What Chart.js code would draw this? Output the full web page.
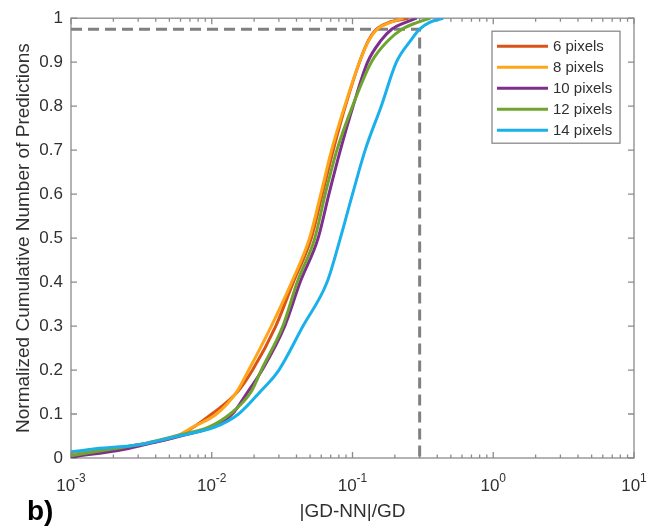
<!DOCTYPE html>
<html>
<head>
<meta charset="utf-8">
<script src="https://cdn.jsdelivr.net/npm/chart.js@4.4.1/dist/chart.umd.min.js"></script>
<style>
  html, body { margin: 0; padding: 0; background: #fff; }
  #wrap { width: 657px; height: 528px; }
</style>
</head>
<body>
<div id="wrap"><canvas id="cdfChart" width="657" height="528"></canvas></div>
<script>
// cumulative fraction levels shared by every curve
const cdfLevels = [0.02, 0.03, 0.05, 0.07, 0.1, 0.15, 0.2, 0.3, 0.4, 0.5, 0.6, 0.7, 0.8, 0.9, 0.95, 0.975, 0.99, 1.0];

// |GD-NN|/GD where each curve reaches the level above
const err6px  = [0.0019, 0.0030, 0.0057, 0.0074, 0.0100, 0.0152, 0.0195, 0.0285, 0.0380, 0.051, 0.061, 0.073, 0.089, 0.112, 0.130, 0.148, 0.18, 0.25];
const err8px  = [0.0020, 0.0031, 0.0057, 0.0073, 0.0108, 0.0150, 0.0183, 0.0265, 0.0370, 0.0495, 0.0595, 0.071, 0.088, 0.112, 0.131, 0.150, 0.185, 0.23];
const err10px = [0.0024, 0.0033, 0.0060, 0.0100, 0.0140, 0.0180, 0.0228, 0.0330, 0.0425, 0.057, 0.068, 0.082, 0.101, 0.128, 0.160, 0.190, 0.236, 0.286];
const err12px = [0.0019, 0.0030, 0.0055, 0.0095, 0.0135, 0.0190, 0.0225, 0.0320, 0.0405, 0.054, 0.064, 0.0775, 0.100, 0.136, 0.180, 0.225, 0.286, 0.356];
const err14px = [0.0014, 0.0030, 0.0058, 0.0105, 0.0155, 0.0220, 0.0300, 0.0445, 0.066, 0.082, 0.100, 0.123, 0.160, 0.205, 0.260, 0.300, 0.350, 0.44];

// fraction already reached at the left edge (x = 1e-3)
const startFrac = [0.008, 0.006, 0.002, 0.005, 0.014];

const seriesLabels = ['6 pixels', '8 pixels', '10 pixels', '12 pixels', '14 pixels'];
const seriesColors = ['#D95319', '#FFA51A', '#7E2F8E', '#6FA52E', '#1AB0EC'];
const seriesErrors = [err6px, err8px, err10px, err12px, err14px];

// axes
const xDecades = [-3, -2, -1, 0, 1];
const yTicks = [0, 0.1, 0.2, 0.3, 0.4, 0.5, 0.6, 0.7, 0.8, 0.9, 1];

// 97.5 % guide
const guideX = [0.001, 0.3, 0.3];
const guideY = [0.975, 0.975, 0];

const isDecade = v => Math.abs(Math.log10(v) - Math.round(Math.log10(v))) < 1e-9;

const AXIS_GREY = '#8a8a8a';
const TEXT = '#303030';
const FONT = "'Liberation Sans', Arial, sans-serif";

/* =============================
   DATASETS
============================= */
const datasets = seriesLabels.map((label, i) => ({
    label,
    data: [{ x: 0.001, y: startFrac[i] }].concat(
        cdfLevels.map((y, k) => ({ x: seriesErrors[i][k], y }))
    ),
    borderColor: seriesColors[i],
    backgroundColor: seriesColors[i],
    borderWidth: 3,
    pointRadius: 0,
    cubicInterpolationMode: 'monotone',
    order: 5 - i
}));

datasets.push({
    label: 'guide',
    isGuide: true,
    data: guideX.map((x, k) => ({ x, y: guideY[k] })),
    borderColor: '#808080',
    borderWidth: 3,
    borderDash: [11, 6],
    pointRadius: 0,
    tension: 0,
    order: 10
});

/* =============================
   PLUGINS
============================= */
// MATLAB style box with inward ticks on all four sides
const axesBox = {
    id: 'axesBox',
    beforeDatasetsDraw(chart) {
        const { ctx, chartArea: a, scales: { x, y } } = chart;
        ctx.save();
        ctx.strokeStyle = AXIS_GREY;
        ctx.lineWidth = 1.3;
        ctx.strokeRect(a.left, a.top, a.right - a.left, a.bottom - a.top);
        ctx.beginPath();
        x.ticks.forEach(t => {
            const px = x.getPixelForValue(t.value);
            const len = isDecade(t.value) ? 6 : 3.5;
            ctx.moveTo(px, a.bottom); ctx.lineTo(px, a.bottom - len);
            ctx.moveTo(px, a.top);    ctx.lineTo(px, a.top + len);
        });
        y.ticks.forEach(t => {
            const py = y.getPixelForValue(t.value);
            ctx.moveTo(a.left, py);  ctx.lineTo(a.left + 6, py);
            ctx.moveTo(a.right, py); ctx.lineTo(a.right - 6, py);
        });
        ctx.stroke();
        ctx.restore();
    }
};

// 10^n labels with a raised exponent
const decadeLabels = {
    id: 'decadeLabels',
    afterDraw(chart) {
        const { ctx, chartArea: a, scales: { x } } = chart;
        ctx.save();
        ctx.fillStyle = TEXT;
        ctx.textBaseline = 'alphabetic';
        ctx.textAlign = 'left';
        x.ticks.filter(t => isDecade(t.value)).forEach(t => {
            const px = x.getPixelForValue(t.value);
            const exp = String(Math.round(Math.log10(t.value)));
            ctx.font = `17px ${FONT}`;
            const wBase = ctx.measureText('10').width;
            ctx.font = `12px ${FONT}`;
            const wExp = ctx.measureText(exp).width;
            const x0 = px - (wBase + wExp) / 2;
            ctx.font = `17px ${FONT}`;
            ctx.fillText('10', x0, a.bottom + 33);
            ctx.font = `12px ${FONT}`;
            ctx.fillText(exp, x0 + wBase, a.bottom + 24);
        });
        ctx.restore();
    }
};

const insideLegend = {
    id: 'insideLegend',
    afterDraw(chart) {
        const { ctx, chartArea: a } = chart;
        const items = chart.data.datasets.filter(d => !d.isGuide);
        const w = 128, rowH = 21;
        const left = a.right - 14 - w, top = a.top + 13;
        const h = 15 + (items.length - 1) * rowH + 13;
        ctx.save();
        ctx.fillStyle = '#fff';
        ctx.fillRect(left, top, w, h);
        ctx.strokeStyle = AXIS_GREY;
        ctx.lineWidth = 1.3;
        ctx.strokeRect(left, top, w, h);
        ctx.font = `15px ${FONT}`;
        ctx.textBaseline = 'middle';
        ctx.textAlign = 'left';
        items.forEach((d, i) => {
            const yy = top + 15 + i * rowH;
            ctx.strokeStyle = d.borderColor;
            ctx.lineWidth = 3;
            ctx.beginPath();
            ctx.moveTo(left + 5, yy);
            ctx.lineTo(left + 56, yy);
            ctx.stroke();
            ctx.fillStyle = TEXT;
            ctx.fillText(d.label, left + 61, yy + 1);
        });
        ctx.restore();
    }
};

const panelTag = {
    id: 'panelTag',
    afterDraw(chart) {
        const { ctx } = chart;
        ctx.save();
        ctx.font = `bold 28px ${FONT}`;
        ctx.fillStyle = '#000';
        ctx.textBaseline = 'alphabetic';
        ctx.fillText('b)', 27, 520);
        ctx.restore();
    }
};

/* =============================
   CHART
============================= */
new Chart(document.getElementById('cdfChart'), {
    type: 'line',
    data: { datasets },
    plugins: [axesBox, decadeLabels, insideLegend, panelTag],
    options: {
        responsive: false,
        animation: false,
        devicePixelRatio: 1,
        layout: { padding: { top: 15, right: 23, left: 0, bottom: 0 } },
        plugins: {
            legend: { display: false },
            tooltip: { enabled: false }
        },
        scales: {
            x: {
                type: 'logarithmic',
                min: 0.001,
                max: 10,
                afterBuildTicks: scale => {
                    const ticks = [];
                    xDecades.forEach(d => {
                        const steps = d === xDecades[xDecades.length - 1] ? [1] : [1, 2, 3, 4, 5, 6, 7, 8, 9];
                        steps.forEach(s => ticks.push({ value: s * Math.pow(10, d) }));
                    });
                    scale.ticks = ticks;
                },
                afterFit: scale => { scale.height = 70; },
                grid: { display: false, drawTicks: false },
                border: { display: false },
                ticks: { display: false },
                title: {
                    display: true,
                    text: '|GD-NN|/GD',
                    color: TEXT,
                    font: { family: FONT, size: 19 },
                    padding: { top: 0, bottom: 5 }
                }
            },
            y: {
                min: 0,
                max: 1,
                afterBuildTicks: scale => { scale.ticks = yTicks.map(value => ({ value })); },
                afterFit: scale => { scale.width = 71; },
                grid: { display: false, drawTicks: false },
                border: { display: false },
                ticks: {
                    padding: 8,
                    color: TEXT,
                    font: { family: FONT, size: 17 },
                    callback: v => String(+v.toFixed(1))
                },
                title: {
                    display: true,
                    text: 'Normalized Cumulative Number of Predictions',
                    color: TEXT,
                    font: { family: FONT, size: 19 },
                    padding: { top: 12, bottom: 0 }
                }
            }
        }
    }
});
</script>
</body>
</html>
